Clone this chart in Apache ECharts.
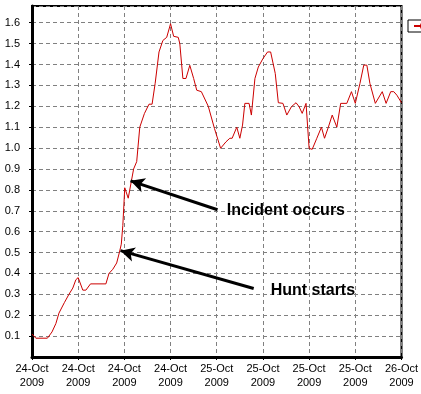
<!DOCTYPE html>
<html>
<head>
<meta charset="utf-8">
<script src="https://cdn.jsdelivr.net/npm/echarts@6/dist/echarts.min.js"></script>
<style>
html,body{margin:0;padding:0;background:#fff;}
#chart{width:421px;height:394px;}
</style>
</head>
<body>
<div id="chart"></div>
<script>
// Time in hours since 24-Oct-2009 00:00
var hours = [0,0.5,2.0,2.6,3.1,3.5,4.2,4.8,5.3,5.7,6.0,6.6,7.0,7.6,9.6,10.0,10.5,11.0,11.35,11.6,11.8,12.05,12.5,12.9,13.2,13.6,14.0,14.6,15.2,15.6,16.0,16.5,17.0,17.5,18.0,18.4,19.0,19.2,19.6,20.0,20.5,21.0,21.4,22.0,22.9,23.7,24.5,25.2,25.7,26.0,26.6,27.0,27.35,27.65,28.2,28.5,28.96,29.4,30.0,30.6,31.0,31.6,32.0,32.6,33.1,33.7,34.3,34.7,35.1,35.6,36.0,36.4,37.0,37.6,38.0,38.5,39.0,39.6,40.1,40.9,41.5,42.0,42.6,43.1,43.5,43.9,44.6,45.5,46.0,46.6,47.0,47.4,48.0];
var values = [0.11,0.09,0.09,0.12,0.16,0.21,0.26,0.30,0.33,0.37,0.38,0.32,0.32,0.35,0.35,0.40,0.42,0.45,0.50,0.54,0.63,0.81,0.76,0.84,0.90,0.935,1.10,1.165,1.21,1.21,1.31,1.46,1.515,1.53,1.595,1.535,1.53,1.50,1.333,1.333,1.396,1.333,1.277,1.27,1.20,1.094,0.999,1.03,1.047,1.047,1.10,1.047,1.11,1.214,1.214,1.158,1.333,1.388,1.428,1.46,1.46,1.357,1.217,1.214,1.158,1.198,1.217,1.198,1.166,1.214,0.999,0.994,1.047,1.10,1.047,1.10,1.158,1.10,1.214,1.214,1.27,1.214,1.309,1.397,1.397,1.309,1.214,1.27,1.214,1.27,1.27,1.253,1.217];
var xTickLabels = ['24-Oct\n2009','24-Oct\n2009','24-Oct\n2009','24-Oct\n2009','25-Oct\n2009','25-Oct\n2009','25-Oct\n2009','25-Oct\n2009','26-Oct\n2009'];
var annotationTexts = ['Incident occurs','Hunt starts'];
var annotationTextPos = [[25.3,0.702],[31.0,0.320]];
var arrowStarts = [[24.1,0.705],[28.8,0.328]];
var arrowTips = [[12.8,0.843],[11.5,0.509]];

var data = hours.map(function(h,i){return [h, values[i]];});
var chart = echarts.init(document.getElementById('chart'), null, {renderer:'canvas'});
var font = "'Liberation Sans', Arial, sans-serif";
var option = {
  animation: false,
  backgroundColor: '#fff',
  grid: {left: 32, right: 19, top: 6, bottom: 37, show: true, borderColor: '#000', borderWidth: 2, backgroundColor: 'transparent'},
  legend: {
    left: 408, top: 20, padding: [1, 5], orient: 'horizontal',
    borderColor: '#000', borderWidth: 1, borderRadius: 0,
    itemWidth: 20, itemHeight: 10, itemGap: 4,
    textStyle: {fontSize: 10, fontFamily: font, color: '#000'},
    data: ['Series 1']
  },
  xAxis: {
    type: 'value', min: 0, max: 48, interval: 6,
    axisLine: {show: true, lineStyle: {color: '#000', width: 3}},
    axisTick: {show: true, length: 3, lineStyle: {color: '#000'}},
    axisLabel: {
      color: '#000', fontSize: 11, fontFamily: font, lineHeight: 14, margin: 5,
      formatter: function(v){ return xTickLabels[Math.round(v/6)] || ''; }
    },
    splitLine: {show: true, lineStyle: {color: '#808080', type: [4,3], width: 1}}
  },
  yAxis: {
    type: 'value', min: 0, max: 1.68, interval: 0.1,
    axisLine: {show: true, lineStyle: {color: '#000', width: 3}},
    axisTick: {show: true, length: 3, lineStyle: {color: '#000'}},
    axisLabel: {
      color: '#000', fontSize: 11, fontFamily: font, margin: 12,
      showMinLabel: false, showMaxLabel: false,
      formatter: function(v){ var r = Math.round(v*10)/10; if (Math.abs(r-v) > 1e-6 || r === 0) return ''; return r.toFixed(1); }
    },
    splitLine: {show: true, lineStyle: {color: '#808080', type: [4,3], width: 1}}
  },
  series: [{
    name: 'Series 1', type: 'line', data: data, symbol: 'none',
    lineStyle: {color: '#cc0000', width: 1}, itemStyle: {color: '#cc0000'},
    markLine: {
      silent: true, animation: false,
      symbol: ['none', 'arrow'], symbolSize: [11, 14],
      lineStyle: {color: '#000', width: 3, type: 'solid'},
      label: {show: false},
      data: arrowStarts.map(function(s, i){ return [{coord: s}, {coord: arrowTips[i]}]; })
    },
    markPoint: {
      silent: true, animation: false,
      symbol: 'circle', symbolSize: 0,
      label: {show: true, position: 'right', distance: 0, formatter: '{b}', color: '#000', fontSize: 16, fontWeight: 'bold', fontFamily: font},
      data: annotationTexts.map(function(t, i){ return {name: t, coord: annotationTextPos[i], value: 0}; })
    }
  }]
};
chart.setOption(option);
</script>
</body>
</html>
